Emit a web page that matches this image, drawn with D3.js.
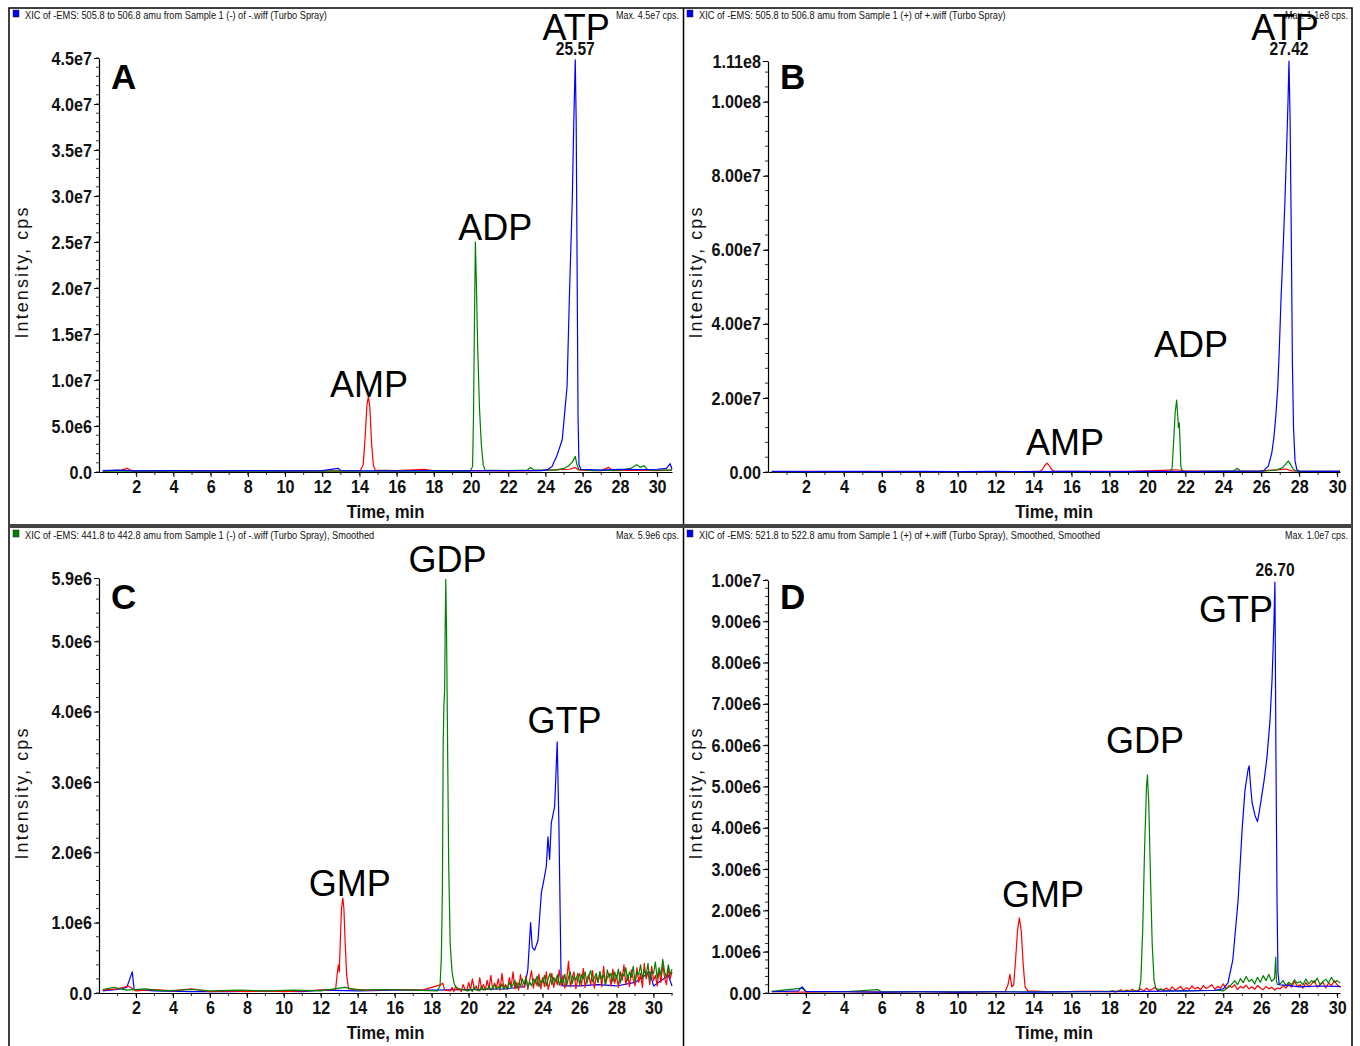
<!DOCTYPE html>
<html>
<head>
<meta charset="utf-8">
<script src="https://cdn.jsdelivr.net/npm/d3@7"></script>
<style>body{margin:0;background:#fff}</style>
</head>
<body>
<svg width="1360" height="1046"></svg>
<script>
// values are in units of 1e6 cps, time in min

// --- panel A : AMP / ADP / ATP, negative mode
const redA = [[0.2,0.1],[1.2,0.2],[1.5,0.4],[1.8,0.1],[3,0.1],[5,0.15],[7,0.1],[9,0.12],[11,0.1],[13,0.12],[14.05,0.15],[14.2,0.8],[14.3,3.6],[14.4,7.2],[14.48,8.2],[14.56,7.0],[14.65,3.2],[14.75,0.7],[14.85,0.2],[16,0.15],[17.5,0.3],[18,0.12],[20,0.15],[22,0.12],[23.5,0.15],[25.3,0.3],[25.6,0.5],[25.8,0.2],[27,0.15],[27.4,0.5],[27.6,0.15],[29,0.2],[30,0.15],[30.8,0.2]];
const greenA = [[0.2,0.1],[3,0.1],[6,0.08],[9,0.1],[12,0.1],[15,0.1],[18,0.1],[19.95,0.1],[20.08,0.6],[20.13,6],[20.18,16],[20.23,25],[20.28,21],[20.35,14],[20.45,7],[20.55,3],[20.65,0.8],[20.75,0.2],[22,0.15],[23.0,0.2],[23.2,0.5],[23.4,0.2],[24.5,0.2],[25.0,0.4],[25.23,0.65],[25.45,1.1],[25.6,1.7],[25.68,0.9],[25.78,0.3],[26.5,0.15],[28,0.2],[28.6,0.4],[28.9,0.8],[29.1,0.5],[29.3,0.7],[29.5,0.2],[30.8,0.2]];
const blueA = [[0.2,0.15],[1,0.2],[2,0.12],[4,0.15],[6,0.12],[8,0.15],[10,0.12],[12,0.15],[12.85,0.4],[13.0,0.15],[16,0.12],[18,0.15],[20,0.12],[22,0.15],[23.8,0.15],[24.1,0.25],[24.35,0.6],[24.6,1.7],[24.9,3.5],[25.03,6.4],[25.16,9.3],[25.28,18.7],[25.44,29.6],[25.52,38],[25.6,44.8],[25.65,38],[25.7,22],[25.75,6],[25.8,0.8],[25.9,0.3],[27,0.2],[28,0.3],[29,0.25],[30,0.3],[30.5,0.4],[30.7,0.9],[30.8,0.3]];

// --- panel B : AMP / ADP / ATP, positive mode
const redB = [[0.2,0.1],[2,0.15],[4,0.1],[6,0.15],[8,0.1],[10,0.12],[12,0.1],[14.3,0.15],[14.45,0.6],[14.6,1.8],[14.7,2.4],[14.8,1.9],[14.95,0.7],[15.1,0.2],[17,0.15],[19,0.2],[20,0.3],[21.5,0.6],[22,0.3],[24,0.2],[26,0.3],[27.3,0.8],[27.6,0.3],[28,0.2],[30.15,0.2]];
const greenB = [[0.2,0.1],[3,0.1],[6,0.1],[9,0.1],[12,0.1],[15,0.1],[18,0.1],[21.2,0.15],[21.3,1],[21.38,8],[21.46,16],[21.54,19.4],[21.6,15],[21.63,12],[21.68,13.3],[21.72,8],[21.76,1.5],[21.85,0.2],[23,0.15],[24.55,0.3],[24.74,1.0],[24.9,0.2],[26.1,0.2],[26.8,0.5],[27.15,1.3],[27.3,2.2],[27.43,3.0],[27.55,2.0],[27.7,0.6],[27.87,0.2],[30.15,0.15]];
const blueB = [[0.2,0.15],[2,0.12],[4,0.15],[6,0.12],[8,0.15],[10,0.12],[12,0.15],[14,0.12],[16,0.15],[18,0.12],[20,0.15],[22,0.12],[24,0.15],[25.8,0.2],[26.11,0.3],[26.37,1.6],[26.55,5],[26.67,9.5],[26.78,16],[26.87,23],[26.95,33],[27.04,46.5],[27.15,60],[27.25,73.5],[27.34,88],[27.41,100],[27.46,111],[27.52,95],[27.58,65],[27.64,30],[27.7,12],[27.78,3],[27.88,0.6],[28.0,0.2],[29,0.15],[30.15,0.15]];

// --- panel C : GMP / GDP / GTP, negative mode, smoothed
const redC = [[0.2,0.04],[1,0.06],[1.6,0.1],[2,0.03],[3,0.05],[4,0.03],[5,0.06],[6,0.02],[7,0.03],[8,0.02],[9,0.03],[10,0.02],[11,0.03],[12,0.04],[12.8,0.05],[12.9,0.3],[12.95,0.4],[13.0,0.3],[13.05,0.7],[13.12,1.2],[13.19,1.35],[13.25,1.2],[13.32,0.7],[13.4,0.25],[13.5,0.06],[14.5,0.04],[16,0.05],[17.5,0.04],[18.5,0.12],[18.6,0.14],[18.7,0.04]];
const redCNoise = [0.03,0.08,0.02,0.1,0.04,0.06,0.02,0.12,0.05,0.03,
  0.15,0.04,0.2,0.06,0.1,0.03,0.22,0.05,0.12,0.04,
  0.18,0.06,0.25,0.05,0.14,0.08,0.2,0.04,0.28,0.07,
  0.12,0.05,0.22,0.09,0.3,0.06,0.15,0.04,0.26,0.1,
  0.08,0.24,0.05,0.18,0.32,0.07,0.2,0.1,0.27,0.06,
  0.22,0.09,0.3,0.05,0.16,0.28,0.08,0.2,0.12,0.33,
  0.1,0.25,0.07,0.18,0.45,0.09,0.22,0.3,0.06,0.2,
  0.28,0.1,0.35,0.08,0.2,0.26,0.12,0.32,0.07,0.24,
  0.15,0.3,0.09,0.38,0.12,0.22,0.28,0.1,0.34,0.14,
  0.25,0.08,0.3,0.18,0.4,0.12,0.26,0.09,0.33,0.2,
  0.1,0.36,0.15,0.28,0.08,0.42,0.2,0.3,0.12,0.38,
  0.18,0.25,0.1,0.33,0.15,0.4,0.22,0.12,0.35,0.2,0.3]; // from 19.0 min, every 0.1 min
const greenC = [[0.2,0.05],[0.8,0.08],[1.5,0.04],[2.5,0.06],[3.5,0.03],[5,0.05],[6,0.03],[7.5,0.04],[9,0.03],[10.5,0.04],[12,0.03],[13.3,0.08],[14,0.04],[15.5,0.05],[17,0.04],[18.3,0.03],[18.45,0.1],[18.52,0.5],[18.58,1.5],[18.62,3.5],[18.66,4.1],[18.7,4.3],[18.73,5.2],[18.76,5.88],[18.8,5.2],[18.86,3.5],[18.92,1.8],[19.0,0.7],[19.1,0.3],[19.2,0.15],[19.3,0.08],[19.6,0.05]];
const greenCNoise = [0.03,0.06,0.02,0.08,0.04,0.05,0.03,0.1,0.04,0.06,
  0.05,0.1,0.04,0.08,0.12,0.05,0.09,0.06,0.13,0.05,
  0.1,0.06,0.15,0.08,0.12,0.18,0.07,0.14,0.1,0.2,
  0.12,0.22,0.08,0.16,0.1,0.2,0.14,0.24,0.09,0.18,
  0.15,0.25,0.1,0.2,0.28,0.12,0.22,0.16,0.26,0.11,
  0.2,0.14,0.27,0.1,0.22,0.3,0.13,0.24,0.18,0.28,
  0.12,0.26,0.2,0.3,0.14,0.24,0.32,0.16,0.22,0.28,
  0.15,0.3,0.2,0.26,0.12,0.33,0.22,0.28,0.16,0.3,
  0.2,0.34,0.14,0.28,0.24,0.36,0.18,0.3,0.22,0.38,
  0.16,0.3,0.26,0.4,0.2,0.33,0.24,0.42,0.18,0.3,
  0.28,0.44,0.2,0.36,0.25,0.48,0.3,0.22,0.4,0.26,0.34]; // from 20.0 min, every 0.1 min
const blueC = [[0.2,0.03],[1.0,0.05],[1.5,0.08],[1.8,0.3],[1.9,0.05],[3,0.03],[5,0.02],[7,0.02],[9,0.03],[11,0.02],[12,0.04],[14,0.03],[16,0.04],[18,0.04],[20,0.05],[22,0.06],[23.03,0.09],[23.2,0.33],[23.35,1.0],[23.44,0.65],[23.57,0.61],[23.75,0.75],[23.93,1.42],[24.1,1.65],[24.2,1.8],[24.29,2.22],[24.38,1.9],[24.47,2.42],[24.65,2.65],[24.79,3.57],[24.88,2.42],[25.0,0.18],[25.1,0.1],[26,0.1],[27,0.12],[28,0.1],[29,0.15],[29.8,0.3],[30,0.1],[30.8,0.25],[31,0.1]];

// --- panel D : GMP / GDP / GTP, positive mode, smoothed
const redD = [[0.2,0.03],[2,0.02],[4,0.03],[6,0.02],[8,0.03],[10,0.02],[12,0.03],[12.5,0.03],[12.65,0.2],[12.75,0.45],[12.85,0.15],[12.95,0.2],[13.05,0.8],[13.15,1.5],[13.25,1.82],[13.35,1.5],[13.45,0.7],[13.55,0.15],[13.7,0.05],[15,0.03],[16.5,0.04],[17.5,0.04]];
const redDNoise = [0.03,0.06,0.02,0.05,0.08,0.03,0.07,0.04,0.09,0.05,
  0.06,0.1,0.04,0.12,0.06,0.09,0.14,0.05,0.1,0.07,
  0.12,0.06,0.15,0.08,0.11,0.16,0.07,0.13,0.09,0.17,
  0.1,0.14,0.08,0.18,0.11,0.15,0.2,0.09,0.16,0.12,
  0.22,0.1,0.18,0.13,0.2,0.08,0.16,0.12,0.19,0.1,
  0.15,0.09,0.18,0.12,0.08,0.16,0.1,0.14,0.07,0.12,
  0.1,0.18,0.12,0.22,0.14,0.28,0.16,0.2,0.12,0.25,
  0.15,0.22,0.3,0.14,0.2,0.26,0.12,0.24,0.18,0.3,
  0.2,0.15]; // from 18.0 min, every 0.15 min
const greenD = [[0.2,0.04],[1.8,0.12],[2.0,0.03],[4,0.03],[5.8,0.08],[6,0.03],[8,0.03],[10,0.03],[12,0.03],[14,0.03],[16,0.03],[18,0.04],[19.55,0.05],[19.65,0.3],[19.75,1.5],[19.85,3.5],[19.95,5.0],[20.0,5.28],[20.07,4.6],[20.15,3],[20.25,1.2],[20.35,0.3],[20.45,0.1],[21,0.06],[22,0.05],[23,0.06],[23.8,0.06],[26.72,0.5],[26.76,0.87],[26.8,0.3]];
const greenDNoise = [0.05,0.1,0.15,0.22,0.3,0.2,0.35,0.25,0.4,0.28,
  0.33,0.22,0.38,0.26,0.42,0.3,0.45,0.28,0.35,0.2,
  0.22,0.3,0.18,0.26,0.2,0.32,0.24,0.28,0.2,0.34,
  0.22,0.3,0.25,0.36,0.2,0.28,0.33,0.24,0.38,0.26,
  0.3,0.24]; // from 24.0 min, every 0.15 min
const blueD = [[0.2,0.03],[1.6,0.05],[1.8,0.15],[2.0,0.04],[4,0.03],[6,0.02],[8,0.03],[10,0.02],[12,0.03],[14,0.02],[16,0.03],[18,0.03],[20,0.04],[22,0.05],[23.5,0.06],[24.0,0.1],[24.25,0.25],[24.5,0.8],[24.78,2.25],[24.99,3.95],[25.14,4.9],[25.3,5.4],[25.36,5.5],[25.44,5.0],[25.52,4.6],[25.67,4.3],[25.8,4.15],[25.9,4.4],[26.0,4.7],[26.15,5.15],[26.3,5.7],[26.46,6.6],[26.57,7.6],[26.67,9.0],[26.72,9.95],[26.77,6],[26.83,2.25],[26.88,0.5],[26.95,0.2],[27.5,0.18],[28,0.15],[29,0.17],[30,0.16],[30.2,0.15]];

// tick values / labels
const xTicks = [2,4,6,8,10,12,14,16,18,20,22,24,26,28,30];
const yTicksA = [0,5,10,15,20,25,30,35,40,45];
const yLabelsA = ["0.0","5.0e6","1.0e7","1.5e7","2.0e7","2.5e7","3.0e7","3.5e7","4.0e7","4.5e7"];
const yTicksB = [0,20,40,60,80,100,111];
const yLabelsB = ["0.00","2.00e7","4.00e7","6.00e7","8.00e7","1.00e8","1.11e8"];
const yTicksC = [0,1,2,3,4,5,5.9];
const yLabelsC = ["0.0","1.0e6","2.0e6","3.0e6","4.0e6","5.0e6","5.9e6"];
const yTicksD = [0,1,2,3,4,5,6,7,8,9,10];
const yLabelsD = ["0.00","1.00e6","2.00e6","3.00e6","4.00e6","5.00e6","6.00e6","7.00e6","8.00e6","9.00e6","1.00e7"];

// peak annotations: [text, time, intensity]
const peaksA = [["AMP",14.52,8.15],["ADP",21.3,25.2],["ATP",25.65,47]];
const peaksB = [["AMP",15.66,4.6],["ADP",22.3,31],["ATP",27.25,116.7]];
const peaksC = [["GMP",13.57,1.38],["GDP",18.86,5.99],["GTP",25.19,3.7]];
const peaksD = [["GMP",14.5,2.08],["GDP",19.87,5.81],["GTP",24.67,8.98]];
const rtA = [["25.57",25.6,45.3]];
const rtB = [["27.42",27.46,112.6]];
const rtC = [];
const rtD = [["26.70",26.73,10.1]];

const headers = [
  "XIC of -EMS: 505.8 to 506.8 amu from Sample 1 (-) of -.wiff (Turbo Spray)",
  "XIC of -EMS: 505.8 to 506.8 amu from Sample 1 (+) of +.wiff (Turbo Spray)",
  "XIC of -EMS: 441.8 to 442.8 amu from Sample 1 (-) of -.wiff (Turbo Spray), Smoothed",
  "XIC of -EMS: 521.8 to 522.8 amu from Sample 1 (+) of +.wiff (Turbo Spray), Smoothed, Smoothed"];
const maxTexts = ["Max. 4.5e7 cps.","Max. 1.1e8 cps.","Max. 5.9e6 cps.","Max. 1.0e7 cps."];
const panelLetters = ["A","B","C","D"];

const SANS = "'Liberation Sans',Arial,sans-serif";
const RED = "#ff0000", GREEN = "#008000", BLUE = "#0000ff";

const svg = d3.select("svg");

function noisy(points, start, step, values) {
  const pts = values.map((v, i) => [+(start + i * step).toFixed(3), v]);
  return points.concat(pts).sort((a, b) => a[0] - b[0]);
}

// squeeze text horizontally (no narrow font installed)
function condense(sel, f) {
  sel.each(function() {
    const w = this.getComputedTextLength();
    d3.select(this).attr("textLength", w * f).attr("lengthAdjust", "spacingAndGlyphs");
  });
}

const panels = [
  {letter:0, bx:9, bw:674, by:8, left:99, right:672, base:472, top:58, tMax:30.8, yMax:45,
   yTicks:yTicksA, yLabels:yLabelsA, minor:1, color:BLUE,
   traces:[[redA,RED],[greenA,GREEN],[blueA,BLUE]], peaks:peaksA, rts:rtA},
  {letter:1, bx:683, bw:669, by:8, left:768, right:1340, base:472, top:61, tMax:30.15, yMax:111,
   yTicks:yTicksB, yLabels:yLabelsB, minor:4, color:BLUE,
   traces:[[redB,RED],[greenB,GREEN],[blueB,BLUE]], peaks:peaksB, rts:rtB},
  {letter:2, bx:9, bw:674, by:528, left:99, right:672, base:993, top:578, tMax:31.0, yMax:5.9,
   yTicks:yTicksC, yLabels:yLabelsC, minor:0.2, color:GREEN,
   traces:[[blueC,BLUE],[noisy(redC,19,0.1,redCNoise),RED],[noisy(greenC,20,0.1,greenCNoise),GREEN]], peaks:peaksC, rts:rtC},
  {letter:3, bx:683, bw:669, by:528, left:768, right:1340, base:993, top:580, tMax:30.15, yMax:10,
   yTicks:yTicksD, yLabels:yLabelsD, minor:0.2, color:BLUE,
   traces:[[noisy(redD,18,0.15,redDNoise),RED],[noisy(greenD,24,0.15,greenDNoise),GREEN],[blueD,BLUE]], peaks:peaksD, rts:rtD}
];

// frame
svg.append("rect").attr("x",9).attr("y",8).attr("width",1343).attr("height",1046)
  .attr("fill","none").attr("stroke","#000").attr("stroke-width",1.5);
svg.append("line").attr("x1",683.5).attr("x2",683.5).attr("y1",8).attr("y2",1046)
  .attr("stroke","#000").attr("stroke-width",1.5);
svg.append("rect").attr("x",9).attr("y",524).attr("width",1343).attr("height",4).attr("fill","#444");

panels.forEach((p, k) => {
  const g = svg.append("g");
  const x = d3.scaleLinear().domain([0, p.tMax]).range([p.left, p.right]);
  const y = d3.scaleLinear().domain([0, p.yMax]).range([p.base, p.top]);

  // header line
  g.append("rect").attr("x", p.bx + 4).attr("y", p.by + 2).attr("width", 6).attr("height", 7)
    .attr("fill", p.color).attr("stroke", "#222").attr("stroke-width", 0.5);
  g.append("text").attr("x", p.bx + 16).attr("y", p.by + 10.5)
    .attr("font-family", SANS).attr("font-size", 10.5).attr("fill", "#111")
    .text(headers[k]).call(condense, 0.88);
  g.append("text").attr("x", p.bx + p.bw - 4).attr("y", p.by + 10.5).attr("text-anchor", "end")
    .attr("font-family", SANS).attr("font-size", 10.5).attr("fill", "#111")
    .text(maxTexts[k]).call(condense, 0.85);

  // minor y ticks
  g.append("g").selectAll("line")
    .data(d3.range(0, p.yMax + 1e-9, p.minor))
    .join("line")
    .attr("x1", p.left - 3).attr("x2", p.left)
    .attr("y1", d => y(d)).attr("y2", d => y(d))
    .attr("stroke", "#000").attr("stroke-width", 0.8);

  // y axis
  const yAxis = g.append("g")
    .attr("transform", `translate(${p.left},0)`)
    .call(d3.axisLeft(y).tickValues(p.yTicks).tickFormat((d, i) => p.yLabels[i])
      .tickSize(5).tickSizeOuter(0).tickPadding(2));
  yAxis.selectAll("text").attr("font-family", SANS).attr("font-size", 19)
    .attr("font-weight", "bold").attr("fill", "#111").call(condense, 0.85);
  yAxis.select(".domain").attr("stroke-width", 1.2);

  // x axis: minor ticks every minute
  g.append("g").selectAll("line")
    .data(d3.range(1, Math.floor(p.tMax) + 1))
    .join("line")
    .attr("x1", d => x(d)).attr("x2", d => x(d))
    .attr("y1", p.base).attr("y2", p.base + 3)
    .attr("stroke", "#000").attr("stroke-width", 0.8);
  const xAxis = g.append("g")
    .attr("transform", `translate(0,${p.base})`)
    .call(d3.axisBottom(x).tickValues(xTicks).tickFormat(d3.format("d"))
      .tickSize(5).tickSizeOuter(0).tickPadding(3));
  xAxis.selectAll("text").attr("font-family", SANS).attr("font-size", 19)
    .attr("font-weight", "bold").attr("fill", "#111").call(condense, 0.85);

  // axis titles
  g.append("text").attr("x", (p.left + p.right) / 2).attr("y", p.base + 46)
    .attr("text-anchor", "middle").attr("font-family", SANS).attr("font-size", 19)
    .attr("font-weight", "bold").attr("fill", "#111").text("Time, min").call(condense, 0.88);
  g.append("text")
    .attr("transform", `translate(${p.bx + 19},${p.base - 200}) rotate(-90)`)
    .attr("text-anchor", "middle").attr("font-family", SANS).attr("font-size", 18)
    .attr("letter-spacing", 2.1).attr("fill", "#111").text("Intensity, cps");

  // traces
  const line = d3.line().x(d => x(d[0])).y(d => y(d[1]));
  p.traces.forEach(([data, col]) => {
    g.append("path").attr("d", line(data)).attr("fill", "none")
      .attr("stroke", col).attr("stroke-width", 1.2).attr("stroke-linejoin", "round");
  });

  // panel letter
  g.append("text").attr("x", p.left + 12).attr("y", p.by + 81)
    .attr("font-family", SANS).attr("font-weight", "bold").attr("font-size", 35)
    .text(panelLetters[k]);

  // peak names
  g.selectAll(".peak").data(p.peaks).join("text")
    .attr("x", d => x(d[1])).attr("y", d => y(d[2]))
    .attr("text-anchor", "middle").attr("font-family", SANS).attr("font-size", 36)
    .attr("fill", "#000").text(d => d[0]);
  g.selectAll(".rt").data(p.rts).join("text")
    .attr("x", d => x(d[1])).attr("y", d => y(d[2]))
    .attr("text-anchor", "middle").attr("font-family", SANS).attr("font-size", 19)
    .attr("font-weight", "bold").attr("fill", "#111").text(d => d[0]).call(condense, 0.82);
});
</script>
</body>
</html>
